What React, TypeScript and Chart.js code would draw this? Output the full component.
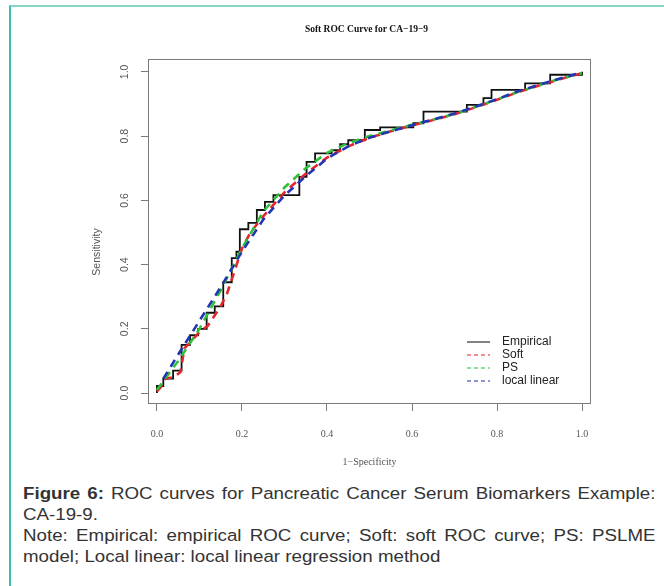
import React, { useEffect, useRef } from 'react';
import { Chart, registerables } from 'chart.js';

Chart.register(...registerables);

const chartTitle = 'Soft ROC Curve for CA\u221219\u22129';
const xAxisTitle = '1\u2212Specificity';
const yAxisTitle = 'Sensitivity';

const xTickValues = [0, 0.2, 0.4, 0.6, 0.8, 1.0];
const xTickLabels = ['0.0', '0.2', '0.4', '0.6', '0.8', '1.0'];
const yTickValues = [0, 0.2, 0.4, 0.6, 0.8, 1.0];
const yTickLabels = ['0.0', '0.2', '0.4', '0.6', '0.8', '1.0'];

const seriesNames = ['Empirical', 'Soft', 'PS', 'local linear'];
const seriesColors = ['#111111', '#e4262c', '#2fbf3a', '#2235b2'];

// Empirical ROC (corner points: horizontal move then vertical jump)
const empFpr = [0, 0, 0.015, 0.038, 0.058, 0.078, 0.097, 0.117, 0.136, 0.156, 0.176, 0.187, 0.195, 0.215, 0.235, 0.254, 0.274, 0.335, 0.352, 0.372, 0.411, 0.431, 0.45, 0.489, 0.525, 0.603, 0.627, 0.729, 0.768, 0.787, 0.866, 0.925, 1.0];
const empTpr = [0, 0.022, 0.045, 0.07, 0.15, 0.18, 0.2, 0.25, 0.27, 0.345, 0.42, 0.44, 0.51, 0.53, 0.57, 0.595, 0.616, 0.673, 0.72, 0.746, 0.756, 0.775, 0.787, 0.819, 0.827, 0.84, 0.876, 0.897, 0.918, 0.944, 0.964, 0.991, 1.0];

// Soft ROC
const softFpr = [0, 0.01, 0.02, 0.04, 0.055, 0.065, 0.08, 0.1, 0.12, 0.135, 0.15, 0.165, 0.18, 0.2, 0.22, 0.25, 0.3, 0.35, 0.4, 0.45, 0.5, 0.55, 0.6, 0.65, 0.7, 0.75, 0.8, 0.85, 0.9, 0.95, 1.0];
const softTpr = [0.005, 0.02, 0.045, 0.05, 0.065, 0.14, 0.16, 0.19, 0.21, 0.24, 0.27, 0.31, 0.37, 0.45, 0.5, 0.55, 0.625, 0.683, 0.733, 0.768, 0.795, 0.815, 0.833, 0.85, 0.868, 0.89, 0.913, 0.937, 0.958, 0.978, 0.996];

// PSLME
const psFpr = [0.0, 0.05, 0.1, 0.15, 0.2, 0.25, 0.3, 0.35, 0.4, 0.45, 0.5, 0.55, 0.6, 0.65, 0.7, 0.75, 0.8, 0.85, 0.9, 0.95, 1.0];
const psTpr = [0.01, 0.1, 0.2, 0.32, 0.45, 0.565, 0.64, 0.7, 0.748, 0.778, 0.8, 0.818, 0.835, 0.851, 0.869, 0.891, 0.914, 0.938, 0.959, 0.979, 0.996];

// Local linear
const llFpr = [0.015, 0.05, 0.1, 0.15, 0.2, 0.25, 0.3, 0.35, 0.4, 0.45, 0.5, 0.55, 0.6, 0.65, 0.7, 0.75, 0.8, 0.85, 0.9, 0.95, 0.99];
const llTpr = [0.045, 0.12, 0.225, 0.33, 0.44, 0.54, 0.615, 0.675, 0.73, 0.768, 0.795, 0.815, 0.834, 0.852, 0.87, 0.892, 0.915, 0.94, 0.96, 0.98, 0.995];

const CANVAS_W = 664;
const CANVAS_H = 480;

const toPts = (xs: number[], ys: number[]) => xs.map((x, i) => ({ x, y: ys[i] }));

const SANS = '"Liberation Sans", Arial, sans-serif';
const SERIF = '"Liberation Serif", "Times New Roman", serif';

const rPlugin = {
  id: 'rStyle',
  beforeDatasetsDraw(chart: any) {
    const { ctx, chartArea: a } = chart;
    ctx.save();
    ctx.strokeStyle = '#7a7a7a';
    ctx.lineWidth = 1;
    ctx.strokeRect(a.left + 0.5, a.top + 0.5, a.right - a.left - 1, a.bottom - a.top - 1);
    ctx.restore();
  },
  afterDraw(chart: any) {
    const { ctx, chartArea: a, scales } = chart;
    const xs = scales.x;
    const ys = scales.y;
    ctx.save();
    // title
    ctx.fillStyle = '#111';
    ctx.font = `bold 9.5px ${SERIF}`;
    ctx.textAlign = 'center';
    ctx.textBaseline = 'middle';
    ctx.fillText(chartTitle, (a.left + a.right) / 2 - 3, 30);

    // x tick labels
    ctx.fillStyle = '#555';
    ctx.font = `10px ${SERIF}`;
    xTickValues.forEach((v, i) => {
      ctx.fillText(xTickLabels[i], xs.getPixelForValue(v), 434);
    });
    // x title
    ctx.fillText(xAxisTitle, (a.left + a.right) / 2, 462);

    // y tick labels (rotated)
    ctx.font = `10.5px ${SANS}`;
    yTickValues.forEach((v, i) => {
      ctx.save();
      ctx.translate(125, ys.getPixelForValue(v));
      ctx.rotate(-Math.PI / 2);
      ctx.fillText(yTickLabels[i], 0, 0);
      ctx.restore();
    });
    // y title
    ctx.save();
    ctx.translate(97, 252);
    ctx.rotate(-Math.PI / 2);
    ctx.fillText(yAxisTitle, 0, 0);
    ctx.restore();

    // legend
    const rows = [342, 355, 368, 381];
    ctx.font = `12px ${SANS}`;
    ctx.textAlign = 'left';
    seriesNames.forEach((name, i) => {
      ctx.save();
      ctx.strokeStyle = seriesColors[i];
      ctx.globalAlpha = 0.7;
      ctx.lineWidth = 1.5;
      ctx.setLineDash(i === 0 ? [] : [4, 3]);
      ctx.beginPath();
      ctx.moveTo(467, rows[i]);
      ctx.lineTo(490, rows[i]);
      ctx.stroke();
      ctx.restore();
      ctx.fillStyle = '#222';
      ctx.fillText(name, 502, rows[i]);
    });
    ctx.restore();
  },
};

export default function App() {
  const ref = useRef<HTMLCanvasElement>(null);
  useEffect(() => {
    const canvas = ref.current;
    if (!canvas) return;
    const tickGrid = {
      drawOnChartArea: false,
      drawTicks: true,
      tickLength: 7,
      color: '#7a7a7a',
      lineWidth: 1,
    };
    const chart = new Chart(canvas, {
      type: 'scatter',
      data: {
        datasets: [
          {
            label: seriesNames[0],
            data: toPts(empFpr, empTpr),
            showLine: true,
            stepped: 'before',
            borderColor: seriesColors[0],
            borderWidth: 1.8,
            pointRadius: 0,
            order: 3,
          },
          {
            label: seriesNames[1],
            data: toPts(softFpr, softTpr),
            showLine: true,
            borderColor: seriesColors[1],
            borderWidth: 2.6,
            borderDash: [8, 6],
            pointRadius: 0,
            order: 2,
          },
          {
            label: seriesNames[2],
            data: toPts(psFpr, psTpr),
            showLine: true,
            borderColor: seriesColors[2],
            borderWidth: 2.6,
            borderDash: [8, 6],
            pointRadius: 0,
            order: 1,
          },
          {
            label: seriesNames[3],
            data: toPts(llFpr, llTpr),
            showLine: true,
            borderColor: seriesColors[3],
            borderWidth: 2.6,
            borderDash: [8, 6],
            pointRadius: 0,
            order: 0,
          },
        ] as any,
      },
      options: {
        animation: false,
        responsive: false,
        devicePixelRatio: 1,
        layout: { padding: { left: 0, top: 59, right: 73, bottom: 0 } },
        plugins: { legend: { display: false }, tooltip: { enabled: false }, title: { display: false } },
        scales: {
          x: {
            type: 'linear',
            position: 'bottom',
            min: -0.021,
            max: 1.021,
            grid: tickGrid,
            border: { display: false },
            ticks: { display: false },
            afterBuildTicks: (s: any) => {
              s.ticks = xTickValues.map((v) => ({ value: v }));
            },
            afterFit: (s: any) => {
              s.height = CANVAS_H - 404;
            },
          },
          y: {
            type: 'linear',
            position: 'left',
            min: -0.034,
            max: 1.04,
            grid: tickGrid,
            border: { display: false },
            ticks: { display: false },
            afterBuildTicks: (s: any) => {
              s.ticks = yTickValues.map((v) => ({ value: v }));
            },
            afterFit: (s: any) => {
              s.width = 148;
            },
          },
        },
      } as any,
      plugins: [rPlugin],
    });
    return () => chart.destroy();
  }, []);

  return (
    <div style={{ position: 'fixed', left: 0, top: 0, width: 664, height: 586, background: '#fff', overflow: 'hidden' }}>
      <div
        style={{
          position: 'absolute',
          left: 9,
          top: 5,
          right: 0,
          bottom: 0,
          borderLeft: '2px solid #3dbea9',
          borderTop: '2px solid #86d6ca',
        }}
      />
      <canvas
        ref={ref}
        width={CANVAS_W}
        height={CANVAS_H}
        style={{ position: 'absolute', left: 0, top: 0, width: CANVAS_W, height: CANVAS_H }}
      />
      <div
        style={{
          position: 'absolute',
          left: 23,
          top: 483,
          width: 550,
          fontFamily: SANS,
          fontSize: 16.3,
          lineHeight: '21px',
          color: '#333',
          textAlign: 'justify',
          transform: 'scaleX(1.15)',
          transformOrigin: '0 0',
        }}
      >
        <b>Figure 6:</b> ROC curves for Pancreatic Cancer Serum Biomarkers Example: CA-19-9.
        <br />
        Note: Empirical: empirical ROC curve; Soft: soft ROC curve; PS: PSLME model; Local linear: local linear regression method
      </div>
    </div>
  );
}
